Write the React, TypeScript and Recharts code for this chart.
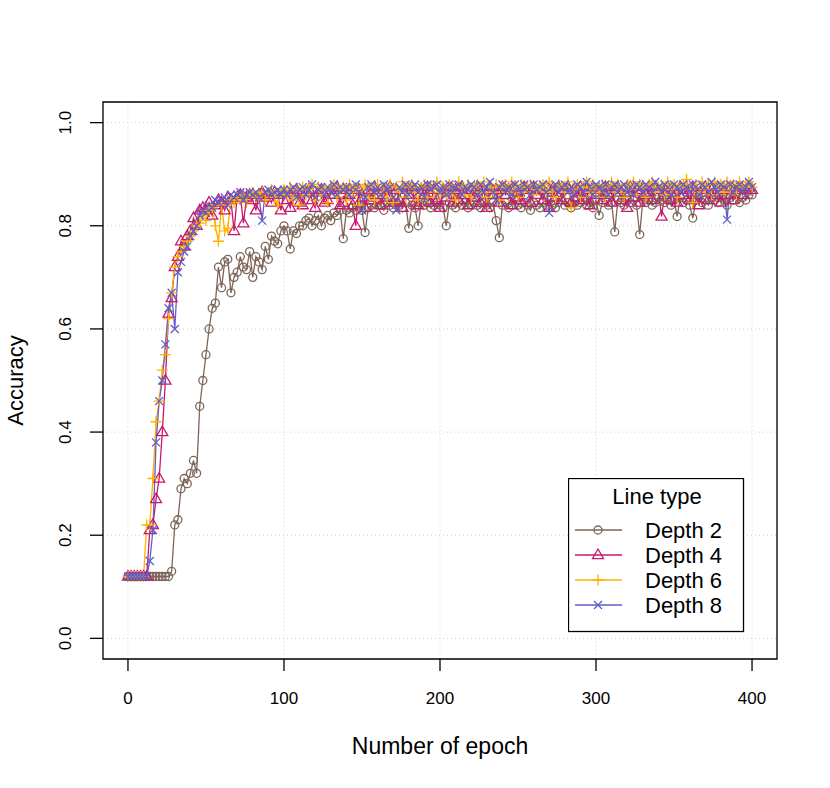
import React from 'react';
import { LineChart, Line, XAxis, YAxis, CartesianGrid, ReferenceArea } from 'recharts';

// accuracy per epoch, sampled every 2 epochs (0, 2, ..., 400)
const depth2 = [
  0.12, 0.12, 0.12, 0.12, 0.12, 0.12, 0.12, 0.12, 0.12, 0.12, 0.12, 0.12, 0.12, 0.12,
  0.13, 0.22, 0.23, 0.29, 0.31, 0.30, 0.32, 0.345, 0.32, 0.45, 0.50, 0.55, 0.60, 0.64, 0.65,
  0.72, 0.68, 0.73, 0.735, 0.67, 0.70, 0.71, 0.74, 0.72, 0.715, 0.75, 0.70, 0.74, 0.73,
  0.715, 0.76, 0.735, 0.78, 0.77, 0.765, 0.79, 0.80,
  0.79, 0.755, 0.79, 0.785, 0.80, 0.80, 0.81, 0.815, 0.80, 0.81,
  0.82, 0.80, 0.815, 0.82, 0.81, 0.825, 0.82, 0.83, 0.775, 0.83,
  0.825, 0.835, 0.83, 0.84, 0.83, 0.787, 0.835, 0.84, 0.835, 0.845,
  0.84, 0.83, 0.845, 0.84, 0.835, 0.845, 0.84, 0.835, 0.845, 0.795,
  0.84, 0.835, 0.80, 0.845, 0.84, 0.845, 0.835, 0.84, 0.845, 0.84,
  0.835, 0.80, 0.845, 0.84, 0.835, 0.845, 0.84, 0.845, 0.835, 0.84,
  0.845, 0.84, 0.835, 0.845, 0.84, 0.835, 0.845, 0.81, 0.777, 0.84,
  0.845, 0.835, 0.84, 0.85, 0.84, 0.835, 0.845, 0.84, 0.83, 0.845,
  0.84, 0.835, 0.845, 0.84, 0.85, 0.84, 0.835, 0.845, 0.85, 0.84,
  0.845, 0.835, 0.85, 0.84, 0.845, 0.85, 0.84, 0.845, 0.835, 0.85,
  0.82, 0.845, 0.85, 0.84, 0.845, 0.788, 0.85, 0.845, 0.84, 0.85,
  0.845, 0.85, 0.84, 0.783, 0.85, 0.845, 0.85, 0.84, 0.845, 0.855,
  0.85, 0.845, 0.85, 0.84, 0.85, 0.818, 0.855, 0.845, 0.85, 0.84,
  0.815, 0.85, 0.855, 0.845, 0.85, 0.84, 0.855, 0.85, 0.845, 0.855,
  0.85, 0.84, 0.855, 0.85, 0.86, 0.845, 0.855, 0.85, 0.86, 0.86,
];

const depth4 = [
  0.12, 0.12, 0.12, 0.12, 0.12, 0.12, 0.12,
  0.21, 0.22, 0.27, 0.31, 0.40, 0.50, 0.63, 0.66, 0.72, 0.74, 0.77, 0.76, 0.78, 0.79,
  0.815, 0.80, 0.83, 0.835, 0.83, 0.845, 0.82, 0.84, 0.85, 0.845, 0.83, 0.855, 0.85,
  0.79, 0.855, 0.86, 0.805, 0.855, 0.86, 0.85, 0.83, 0.86, 0.865, 0.855, 0.86, 0.845,
  0.865, 0.86, 0.83, 0.865,
  0.85, 0.835, 0.865, 0.87, 0.845, 0.84, 0.865, 0.87, 0.85, 0.835,
  0.865, 0.87, 0.845, 0.85, 0.87, 0.86, 0.875, 0.84, 0.845, 0.87,
  0.86, 0.84, 0.80, 0.87, 0.855, 0.835, 0.87, 0.85, 0.875, 0.86,
  0.84, 0.87, 0.855, 0.875, 0.845, 0.87, 0.85, 0.835, 0.87, 0.86,
  0.875, 0.845, 0.84, 0.87, 0.86, 0.875, 0.845, 0.87, 0.85, 0.835,
  0.87, 0.855, 0.875, 0.845, 0.87, 0.85, 0.875, 0.86, 0.84, 0.87,
  0.855, 0.875, 0.845, 0.87, 0.835, 0.875, 0.86, 0.87, 0.845, 0.875,
  0.86, 0.87, 0.84, 0.875, 0.855, 0.85, 0.875, 0.87, 0.845, 0.875,
  0.86, 0.87, 0.85, 0.875, 0.835, 0.87, 0.855, 0.875, 0.85, 0.87,
  0.875, 0.845, 0.87, 0.855, 0.875, 0.85, 0.87, 0.84, 0.875, 0.86,
  0.87, 0.85, 0.875, 0.86, 0.845, 0.87, 0.875, 0.85, 0.87, 0.835,
  0.875, 0.855, 0.87, 0.845, 0.875, 0.86, 0.87, 0.85, 0.875, 0.87,
  0.818, 0.86, 0.875, 0.85, 0.87, 0.845, 0.875, 0.86, 0.87, 0.85,
  0.875, 0.86, 0.84, 0.87, 0.875, 0.85, 0.87, 0.86, 0.875, 0.845,
  0.87, 0.86, 0.875, 0.85, 0.87, 0.875, 0.86, 0.87, 0.875, 0.87,
];

const depth6 = [
  0.12, 0.12, 0.12, 0.12, 0.12, 0.12,
  0.22, 0.22, 0.31, 0.42, 0.46, 0.52, 0.55, 0.62, 0.67, 0.72, 0.74, 0.75, 0.76, 0.77,
  0.78, 0.79, 0.80, 0.805, 0.82, 0.81, 0.83, 0.835, 0.80, 0.77, 0.84, 0.79, 0.795, 0.85,
  0.845, 0.855, 0.85, 0.86, 0.845, 0.86, 0.865, 0.855, 0.86, 0.865, 0.85, 0.865, 0.87,
  0.855, 0.84, 0.865, 0.87,
  0.86, 0.875, 0.85, 0.87, 0.84, 0.875, 0.86, 0.87, 0.88, 0.85,
  0.875, 0.86, 0.87, 0.845, 0.875, 0.88, 0.855, 0.87, 0.875, 0.85,
  0.88, 0.865, 0.875, 0.84, 0.87, 0.88, 0.855, 0.875, 0.85, 0.88,
  0.865, 0.875, 0.855, 0.88, 0.845, 0.875, 0.865, 0.885, 0.855, 0.875,
  0.88, 0.865, 0.85, 0.875, 0.88, 0.855, 0.875, 0.865, 0.885, 0.86,
  0.875, 0.86, 0.88, 0.865, 0.85, 0.885, 0.875, 0.86, 0.88, 0.855,
  0.875, 0.88, 0.865, 0.885, 0.855, 0.875, 0.865, 0.88, 0.85, 0.875,
  0.88, 0.865, 0.885, 0.87, 0.855, 0.88, 0.865, 0.875, 0.88, 0.86,
  0.87, 0.875, 0.88, 0.865, 0.885, 0.87, 0.855, 0.88, 0.875, 0.865,
  0.885, 0.835, 0.87, 0.88, 0.855, 0.875, 0.885, 0.865, 0.88, 0.87,
  0.865, 0.88, 0.855, 0.875, 0.885, 0.865, 0.88, 0.87, 0.855, 0.88,
  0.87, 0.885, 0.86, 0.88, 0.875, 0.855, 0.88, 0.885, 0.865, 0.875,
  0.88, 0.86, 0.885, 0.87, 0.88, 0.855, 0.875, 0.88, 0.89, 0.87,
  0.845, 0.88, 0.865, 0.885, 0.87, 0.88, 0.86, 0.885, 0.87, 0.88,
  0.865, 0.885, 0.87, 0.88, 0.86, 0.885, 0.875, 0.88, 0.885, 0.875,
];

const depth8 = [
  0.12, 0.12, 0.12, 0.12, 0.12, 0.12, 0.12,
  0.15, 0.21, 0.38, 0.46, 0.50, 0.57, 0.64, 0.67, 0.60, 0.71, 0.73, 0.75, 0.76, 0.78,
  0.79, 0.80, 0.82, 0.83, 0.825, 0.84, 0.835, 0.85, 0.845, 0.85, 0.855, 0.84, 0.86,
  0.855, 0.86, 0.865, 0.85, 0.86, 0.865, 0.86, 0.865, 0.855, 0.81, 0.865, 0.87, 0.86,
  0.865, 0.87, 0.86, 0.87,
  0.86, 0.87, 0.875, 0.855, 0.87, 0.875, 0.86, 0.87, 0.88, 0.855,
  0.87, 0.875, 0.86, 0.875, 0.865, 0.88, 0.86, 0.875, 0.87, 0.875,
  0.86, 0.875, 0.88, 0.865, 0.83, 0.855, 0.875, 0.88, 0.865, 0.875,
  0.86, 0.88, 0.87, 0.875, 0.855, 0.83, 0.875, 0.865, 0.88, 0.86,
  0.875, 0.88, 0.865, 0.875, 0.855, 0.88, 0.87, 0.875, 0.88, 0.865,
  0.875, 0.86, 0.88, 0.865, 0.875, 0.88, 0.86, 0.875, 0.87, 0.88,
  0.875, 0.86, 0.88, 0.865, 0.875, 0.885, 0.865, 0.85, 0.875, 0.88,
  0.865, 0.875, 0.86, 0.88, 0.875, 0.865, 0.88, 0.875, 0.86, 0.88,
  0.87, 0.875, 0.88, 0.865, 0.825, 0.875, 0.88, 0.865, 0.875, 0.88,
  0.865, 0.875, 0.86, 0.88, 0.875, 0.865, 0.885, 0.875, 0.86, 0.88,
  0.875, 0.865, 0.88, 0.86, 0.875, 0.88, 0.865, 0.875, 0.88, 0.865,
  0.875, 0.86, 0.88, 0.875, 0.865, 0.88, 0.875, 0.865, 0.885, 0.875,
  0.865, 0.88, 0.875, 0.86, 0.88, 0.875, 0.865, 0.88, 0.875, 0.865,
  0.88, 0.875, 0.86, 0.88, 0.875, 0.865, 0.885, 0.875, 0.865, 0.88,
  0.875, 0.812, 0.88, 0.865, 0.875, 0.88, 0.865, 0.875, 0.885, 0.875,
];

const xTicks = [0, 100, 200, 300, 400];
const yTicks = [0, 0.2, 0.4, 0.6, 0.8, 1.0];

const FONT = '"Liberation Sans", Arial, Helvetica, sans-serif';

const SERIES = [
  { key: 'd2', label: 'Depth 2', color: '#7d6558', shape: 'circle' },
  { key: 'd4', label: 'Depth 4', color: '#c8176f', shape: 'triangle' },
  { key: 'd6', label: 'Depth 6', color: '#ffb000', shape: 'plus' },
  { key: 'd8', label: 'Depth 8', color: '#5f5fc9', shape: 'cross' },
];

const rows = depth2.map((v, i) => ({
  epoch: i * 2,
  d2: v,
  d4: depth4[i],
  d6: depth6[i],
  d8: depth8[i],
}));

function Marker({ cx, cy, shape, color }: any) {
  const sw = 1.3;
  if (shape === 'circle') {
    return <circle cx={cx} cy={cy} r={4} fill="none" stroke={color} strokeWidth={sw} />;
  }
  if (shape === 'triangle') {
    const pts = `${cx},${cy - 6} ${cx - 5.5},${cy + 3.6} ${cx + 5.5},${cy + 3.6}`;
    return <polygon points={pts} fill="none" stroke={color} strokeWidth={sw} />;
  }
  if (shape === 'plus') {
    return (
      <path d={`M${cx - 5.5},${cy}H${cx + 5.5}M${cx},${cy - 5.5}V${cy + 5.5}`} stroke={color} strokeWidth={sw} />
    );
  }
  return (
    <path
      d={`M${cx - 4},${cy - 4}L${cx + 4},${cy + 4}M${cx - 4},${cy + 4}L${cx + 4},${cy - 4}`}
      stroke={color}
      strokeWidth={sw}
    />
  );
}

const XTick = ({ x, y, payload }: any) => (
  <text x={x} y={y} dy="0.71em" textAnchor="middle" fontSize={17} fontFamily={FONT} fill="#000">
    {payload.value}
  </text>
);

const YTick = ({ x, y, payload }: any) => (
  <text
    x={x}
    y={y}
    transform={`rotate(-90 ${x} ${y})`}
    textAnchor="middle"
    fontSize={17}
    fontFamily={FONT}
    fill="#000"
  >
    {payload.value.toFixed(1)}
  </text>
);

function LegendBox() {
  return (
    <svg width={178} height={156} style={{ position: 'absolute', left: 568, top: 478 }}>
      <rect x={0.5} y={0.5} width={175} height={153} fill="#fff" stroke="#000" strokeWidth={1.3} />
      <text x={89} y={26} textAnchor="middle" fontSize={22} fontFamily={FONT}>
        Line type
      </text>
      {SERIES.map((s, i) => {
        const yy = 52 + i * 25;
        return (
          <g key={s.key}>
            <line x1={7} x2={54} y1={yy} y2={yy} stroke={s.color} strokeWidth={1.3} />
            <Marker cx={30} cy={yy} shape={s.shape} color={s.color} />
            <text x={77} y={yy + 8} fontSize={22} fontFamily={FONT}>
              {s.label}
            </text>
          </g>
        );
      })}
    </svg>
  );
}

export default function App() {
  return (
    <div style={{ position: 'absolute', left: 0, top: 0, width: 830, height: 788, background: '#fff' }}>
      <LineChart width={830} height={788} data={rows} margin={{ top: 102, right: 53, bottom: 69, left: 43 }}>
        <CartesianGrid stroke="#d3d3d3" strokeDasharray="1 3" />
        <XAxis
          dataKey="epoch"
          type="number"
          domain={[-16, 416]}
          ticks={xTicks}
          allowDataOverflow
          axisLine={false}
          tickSize={12}
          tickMargin={21}
          tickLine={{ stroke: '#000', strokeWidth: 1.3 }}
          tick={<XTick />}
          height={60}
          label={({ viewBox }: any) => (
            <text
              x={viewBox.x + viewBox.width / 2}
              y={viewBox.y + 95}
              textAnchor="middle"
              fontSize={23}
              fontFamily={FONT}
            >
              Number of epoch
            </text>
          )}
        />
        <YAxis
          type="number"
          domain={[-0.04, 1.04]}
          ticks={yTicks}
          allowDataOverflow
          axisLine={false}
          tickSize={13}
          tickMargin={19}
          tickLine={{ stroke: '#000', strokeWidth: 1.3 }}
          tick={<YTick />}
          width={60}
          label={({ viewBox }: any) => {
            const cx = 23;
            const cy = viewBox.y + viewBox.height / 2;
            return (
              <text
                x={cx}
                y={cy}
                transform={`rotate(-90 ${cx} ${cy})`}
                textAnchor="middle"
                fontSize={22}
                fontFamily={FONT}
              >
                Accuracy
              </text>
            );
          }}
        />
        <ReferenceArea
          x1={-16}
          x2={416}
          y1={-0.04}
          y2={1.04}
          fill="none"
          stroke="#000"
          strokeWidth={1.3}
          ifOverflow="visible"
        />
        {SERIES.map((s) => (
          <Line
            key={s.key}
            dataKey={s.key}
            type="linear"
            stroke={s.color}
            strokeWidth={1.3}
            isAnimationActive={false}
            dot={(p: any) => <Marker key={`${s.key}-${p.index}`} cx={p.cx} cy={p.cy} shape={s.shape} color={s.color} />}
            activeDot={false}
          />
        ))}
      </LineChart>
      <LegendBox />
    </div>
  );
}
